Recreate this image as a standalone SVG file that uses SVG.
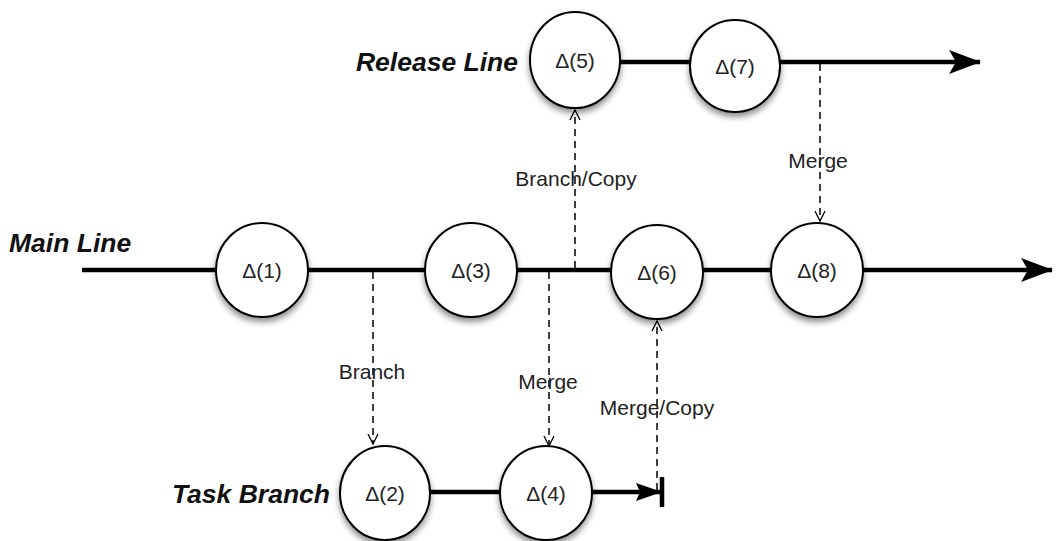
<svg xmlns="http://www.w3.org/2000/svg" width="1059" height="541" viewBox="0 0 1059 541">
<style>
.line{stroke:#000;stroke-width:4.5;fill:none}
.dash{stroke:#000;stroke-width:1.5;stroke-dasharray:7,5;fill:none}
.node{fill:#fff;stroke:#000;stroke-width:2}
.nt{font-family:"Liberation Sans",Arial,sans-serif;font-size:21px;fill:#222;text-anchor:middle;dominant-baseline:central}
.lab{font-family:"Liberation Sans",Arial,sans-serif;font-size:21px;fill:#222;text-anchor:middle;dominant-baseline:central}
.title{font-family:"Liberation Sans",Arial,sans-serif;font-size:26.5px;font-weight:bold;font-style:italic;fill:#111;dominant-baseline:central}
</style>
<defs>
<marker id="big" viewBox="0 0 32 24" refX="31" refY="12" markerWidth="32" markerHeight="24" markerUnits="userSpaceOnUse" orient="auto"><path d="M0,0 L32,12 L0,24 L7,12 Z" fill="#000"/></marker>
<marker id="mid" viewBox="0 0 26 18" refX="25" refY="9" markerWidth="26" markerHeight="18" markerUnits="userSpaceOnUse" orient="auto"><path d="M0,0 L26,9 L0,18 L4,9 Z" fill="#000"/></marker>
<marker id="open" viewBox="0 0 12 12" refX="11" refY="6" markerWidth="12" markerHeight="12" markerUnits="userSpaceOnUse" orient="auto"><path d="M1,1 L11,6 L1,11" fill="none" stroke="#000" stroke-width="1.3"/></marker>
<filter id="sh" x="-30%" y="-30%" width="160%" height="170%"><feGaussianBlur in="SourceAlpha" stdDeviation="3"/><feOffset dx="0" dy="4"/><feComponentTransfer><feFuncA type="linear" slope="0.45"/></feComponentTransfer><feMerge><feMergeNode/><feMergeNode in="SourceGraphic"/></feMerge></filter>
</defs>
<g id="titles">
<text class="title" x="9" y="243">Main Line</text>
<text class="title" x="518" y="62" text-anchor="end">Release Line</text>
<text class="title" x="330" y="494" text-anchor="end">Task Branch</text>
</g>
<g id="connectors">
<path class="line" d="M82,270 L1052,270" marker-end="url(#big)"/>
<path class="line" d="M575,62 L980,62" marker-end="url(#big)"/>
<path class="line" d="M385,492 L661,492" marker-end="url(#mid)"/>
<path d="M662,477 L662,507" stroke="#000" stroke-width="4.5"/>
<path class="dash" d="M373,272 L373,444" marker-end="url(#open)"/>
<path class="dash" d="M549,272 L549,446" marker-end="url(#open)"/>
<path class="dash" d="M575,268 L575,110" marker-end="url(#open)"/>
<path class="dash" d="M820,64 L820,221" marker-end="url(#open)"/>
<path class="dash" d="M657,490 L657,321" marker-end="url(#open)"/>
<text class="lab" x="372" y="371">Branch</text>
<text class="lab" x="548" y="381">Merge</text>
<text class="lab" x="576" y="178">Branch/Copy</text>
<text class="lab" x="818" y="160">Merge</text>
<text class="lab" x="657" y="407">Merge/Copy</text>
</g>
<g id="n1"><ellipse class="node" filter="url(#sh)" cx="262" cy="270" rx="46" ry="47"/><text class="nt" x="262" y="270">Δ(1)</text></g>
<g id="n3"><ellipse class="node" filter="url(#sh)" cx="471" cy="270" rx="46" ry="47"/><text class="nt" x="471" y="270">Δ(3)</text></g>
<g id="n6"><ellipse class="node" filter="url(#sh)" cx="657" cy="272" rx="46" ry="47"/><text class="nt" x="657" y="272">Δ(6)</text></g>
<g id="n8"><ellipse class="node" filter="url(#sh)" cx="817" cy="270" rx="46" ry="47"/><text class="nt" x="817" y="270">Δ(8)</text></g>
<g id="n5"><ellipse class="node" filter="url(#sh)" cx="575" cy="60" rx="45" ry="48"/><text class="nt" x="575" y="60">Δ(5)</text></g>
<g id="n7"><ellipse class="node" filter="url(#sh)" cx="735" cy="66" rx="45" ry="46"/><text class="nt" x="735" y="66">Δ(7)</text></g>
<g id="n2"><ellipse class="node" filter="url(#sh)" cx="385" cy="493" rx="45" ry="47"/><text class="nt" x="385" y="493">Δ(2)</text></g>
<g id="n4"><ellipse class="node" filter="url(#sh)" cx="546" cy="493" rx="46" ry="47"/><text class="nt" x="546" y="493">Δ(4)</text></g>
</svg>
